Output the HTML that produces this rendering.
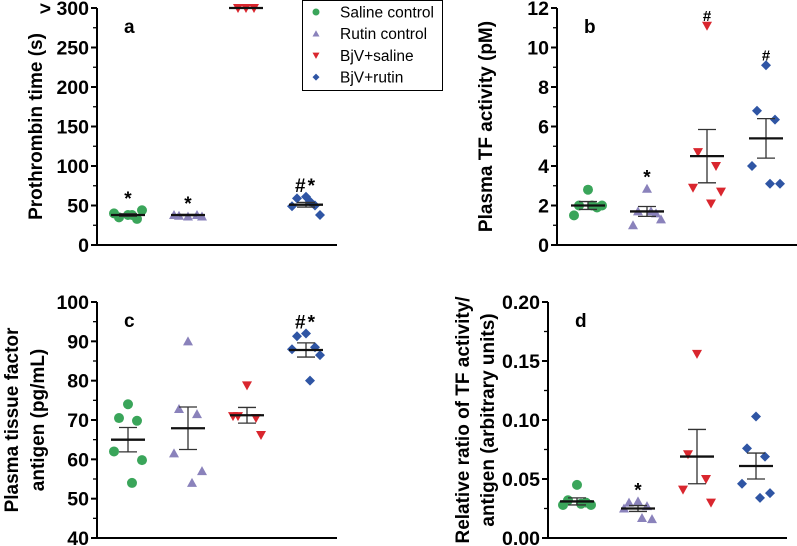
<!DOCTYPE html>
<html><head><meta charset="utf-8"><style>
html,body{margin:0;padding:0;background:#fff}
svg{display:block;font-family:"Liberation Sans",sans-serif}
</style></head><body>
<svg id="chart" width="797" height="546" viewBox="0 0 797 546" xmlns="http://www.w3.org/2000/svg"></svg>
<script>
const groups = ["Saline control","Rutin control","BjV+saline","BjV+rutin"];
const colors = ["#3aa55a","#8a82bb","#d9262e","#2f55a4"];
const shapes = ["circle","tri-up","tri-down","diamond"];
// panel a
const aPts = [[38,35,33,40,44,38],[36,37,38,38,36],[300,300,300],[61,59,50,49,38,55]];
const aMean = [38,38,300,51];
const aSem = [1.5,0.8,0,3];
const aTicks = [0,50,100,150,200,250,300];
const aTickLabels = ["0","50","100","150","200","250","> 300"];
const aSig = ["*","*","","#*"];
// panel b
const bPts = [[2.8,2.0,1.9,1.5,2.0,2.0],[2.85,1.7,1.6,1.0,1.3,1.7],[11.1,4.7,4.0,2.9,2.7,2.1],[9.1,6.8,6.35,4.0,3.1,3.1]];
const bMean = [2.0,1.7,4.5,5.4];
const bSem = [0.2,0.25,1.35,1.0];
const bTicks = [0,2,4,6,8,10,12];
const bTickLabels = ["0","2","4","6","8","10","12"];
const bSig = ["","*","#","#"];
// panel c
const cPts = [[74,70.5,69.8,62,59.8,54],[90,72.8,71.5,61.5,57,54],[78.8,71,70.5,71,66.2],[92,91.3,88.5,88,86.5,80]];
const cMean = [65,67.9,71.2,87.8];
const cSem = [3.1,5.4,2,1.8];
const cTicks = [40,50,60,70,80,90,100];
const cTickLabels = ["40","50","60","70","80","90","100"];
const cSig = ["","","","#*"];
// panel d
const dPts = [[0.045,0.032,0.030,0.028,0.028,0.029],[0.031,0.030,0.027,0.025,0.016,0.017],[0.156,0.071,0.050,0.041,0.030],[0.103,0.076,0.069,0.046,0.038,0.034]];
const dMean = [0.031,0.025,0.069,0.061];
const dSem = [0.003,0.0025,0.023,0.011];
const dTicks = [0,0.05,0.10,0.15,0.20];
const dTickLabels = ["0.00","0.05","0.10","0.15","0.20"];
const dSig = ["","*","",""];

const NS="http://www.w3.org/2000/svg";
const svg=document.getElementById('chart');
function mk(tag,attrs,parent){const e=document.createElementNS(NS,tag);for(const k in attrs)e.setAttribute(k,attrs[k]);(parent||svg).appendChild(e);return e;}
function marker(shape,x,y,col,r,parent){
  if(shape==="circle")return mk('circle',{cx:x,cy:y,r:r,fill:col},parent);
  let p;
  if(shape==="tri-up")p=`${x},${y-r} ${x+r},${y+r*0.8} ${x-r},${y+r*0.8}`;
  else if(shape==="tri-down")p=`${x},${y+r} ${x+r},${y-r*0.8} ${x-r},${y-r*0.8}`;
  else p=`${x},${y-r} ${x+r},${y} ${x},${y+r} ${x-r},${y}`;
  return mk('polygon',{points:p,fill:col},parent);
}
const jit=[0,-9,9,-14,14,4];
function panel(cfg){
  const g=mk('g',{});
  
  
  const {ax,x1,y0,y1,min,max}=cfg;
  const Y=v=>y0-(v-min)/(max-min)*(y0-y1);
  mk('line',{x1:ax,y1:y1,x2:ax,y2:y0+1,stroke:'#000','stroke-width':2},g);
  mk('line',{x1:ax-1,y1:y0,x2:x1,y2:y0,stroke:'#000','stroke-width':2},g);
  cfg.ticks.forEach((t,i)=>{
    const y=Y(t);
    mk('line',{x1:ax-6,y1:y,x2:ax,y2:y,stroke:'#000','stroke-width':2},g);
    if(i<cfg.ticks.length-1){const ym=(y+Y(cfg.ticks[i+1]))/2;mk('line',{x1:ax-4,y1:ym,x2:ax,y2:ym,stroke:'#000','stroke-width':1.3},g);}
    const tx=mk('text',{x:ax-8,y:y+7,'text-anchor':'end','font-size':19.5,'font-weight':'bold'},g);
    tx.textContent=cfg.tickLabels[i];
    
    
  });
  const lt=mk('text',{x:ax+27,y:y1+25,'font-size':19,'font-weight':'bold'},g);
  lt.textContent=cfg.letter;
  
  
  cfg.titles.forEach((t,i)=>{
    const yc=(y0+y1)/2;
    const tx=mk('text',{x:0,y:0,transform:`translate(${cfg.tx[i]},${yc}) rotate(-90)`,'text-anchor':'middle','font-size':19,'font-weight':'bold'},g);
    tx.textContent=t;
    
    
  });
  cfg.pts.forEach((arr,gi)=>{
    const cx=cfg.gx[gi];
    arr.forEach((v,j)=>{
      const off=gi===2&&cfg.letter==='a'?[0,-8,8][j]:jit[j%6];
      const m=marker(shapes[gi],cx+off,Y(v),colors[gi],5,g);
      
      
    });
    const ym=Y(cfg.mean[gi]);
    const hi=Y(cfg.mean[gi]+cfg.sem[gi]),lo=Y(cfg.mean[gi]-cfg.sem[gi]);
    if(cfg.sem[gi]>0){
      mk('line',{x1:cx,y1:hi,x2:cx,y2:lo,stroke:'#333','stroke-width':1.3},g);
      mk('line',{x1:cx-9,y1:hi,x2:cx+9,y2:hi,stroke:'#333','stroke-width':1.3},g);
      mk('line',{x1:cx-9,y1:lo,x2:cx+9,y2:lo,stroke:'#333','stroke-width':1.3},g);
    }
    const ml=mk('line',{x1:cx-17,y1:ym,x2:cx+17,y2:ym,stroke:'#111','stroke-width':2.3},g);
    
    
    if(cfg.sig[gi]){
      const top=Math.min(...arr.map(Y));
      const s=mk('text',{x:cx,y:top-5,'text-anchor':'middle','font-size':cfg.sig[gi]==='#'?15:19,'font-weight':'bold','letter-spacing':cfg.sig[gi].length>1?2:0},g);
      s.textContent=cfg.sig[gi];
      
      
    }
  });
}
panel({name:'panel-a',letter:'a',ax:97,x1:337,y0:245,y1:8,min:0,max:300,ticks:aTicks,tickLabels:aTickLabels,pts:aPts,mean:aMean,sem:aSem,sig:aSig,gx:[128,188,246,306],titles:['Prothrombin time (s)'],tx:[42]});
panel({name:'panel-b',letter:'b',ax:557,x1:797,y0:245,y1:8,min:0,max:12,ticks:bTicks,tickLabels:bTickLabels,pts:bPts,mean:bMean,sem:bSem,sig:bSig,gx:[588,647,707,766],titles:['Plasma TF activity (pM)'],tx:[492]});
panel({name:'panel-c',letter:'c',ax:97,x1:337,y0:538,y1:302,min:40,max:100,ticks:cTicks,tickLabels:cTickLabels,pts:cPts,mean:cMean,sem:cSem,sig:cSig,gx:[128,188,247,306],titles:['Plasma tissue factor','antigen (pg/mL)'],tx:[18,44]});
panel({name:'panel-d',letter:'d',ax:548,x1:787,y0:538,y1:302,min:0,max:0.2,ticks:dTicks,tickLabels:dTickLabels,pts:dPts,mean:dMean,sem:dSem,sig:dSig,gx:[577,638,697,756],titles:['Relative ratio of TF activity/','antigen (arbitrary units)'],tx:[469,494]});
// legend
const lg=mk('g',{});


mk('rect',{x:302.5,y:0.5,width:140,height:90,fill:'#fff',stroke:'#000','stroke-width':1},lg);
groups.forEach((n,i)=>{
  const y=12+i*21.7;
  const e=mk('g',{},lg);
  
  
  marker(shapes[i],316,y,colors[i],3.5,e);
  const t=mk('text',{x:340,y:y+5.5,'font-size':15.5},e);
  t.textContent=n;
});
</script>
</body></html>
